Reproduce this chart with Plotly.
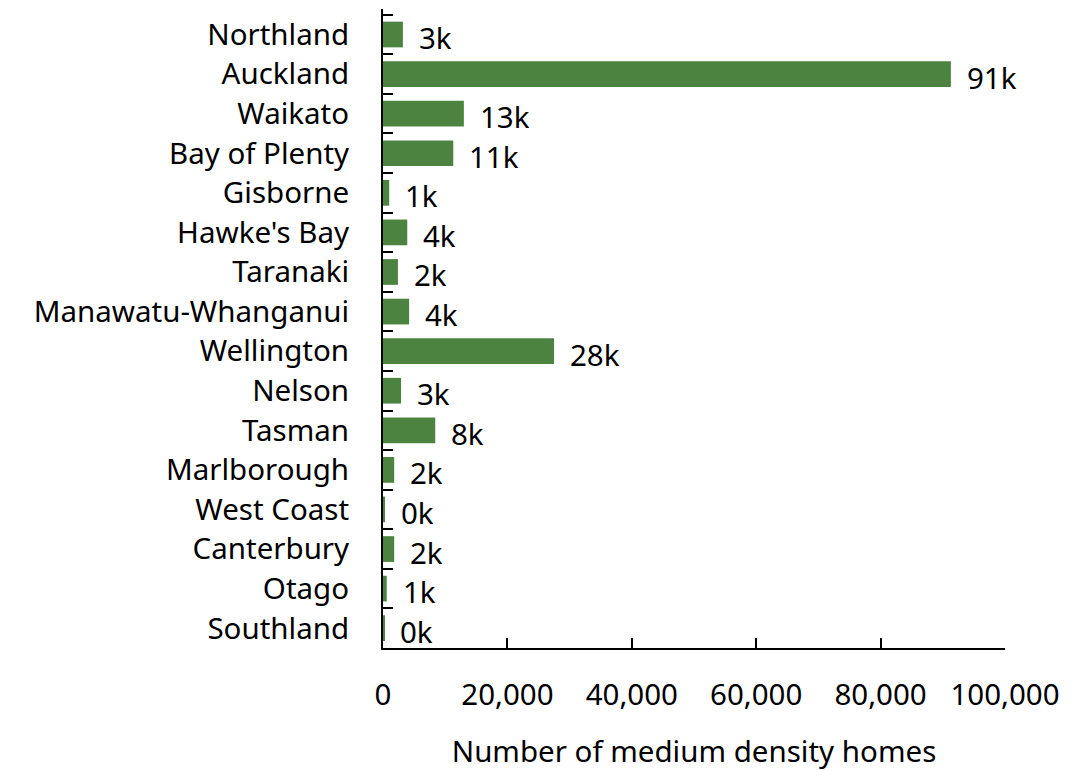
import plotly.graph_objects as go

regions = ["Northland", "Auckland", "Waikato", "Bay of Plenty", "Gisborne", "Hawke's Bay",
           "Taranaki", "Manawatu-Whanganui", "Wellington", "Nelson", "Tasman", "Marlborough",
           "West Coast", "Canterbury", "Otago", "Southland"]
homes = [3200, 91300, 13000, 11300, 1000, 3900, 2400, 4200, 27500, 2900, 8400, 1800,
         300, 1800, 600, 200]
labels = ["3k", "91k", "13k", "11k", "1k", "4k", "2k", "4k", "28k", "3k", "8k", "2k",
          "0k", "2k", "1k", "0k"]
x_ticks = [0, 20000, 40000, 60000, 80000, 100000]
x_ticktext = ["0", "20,000", "40,000", "60,000", "80,000", "100,000"]

FONT = "Noto Sans"
FS = 29.5
GREEN = "#4d8341"

fig = go.Figure()
fig.add_trace(go.Bar(
    y=regions, x=homes, orientation="h",
    marker=dict(color=GREEN, line=dict(width=0)),
    width=0.65, hoverinfo="skip",
))

for r, v, t in zip(regions, homes, labels):
    fig.add_annotation(x=v, y=r, text=t, showarrow=False, xanchor="left",
                       xshift=14, yshift=-3, font=dict(family=FONT, size=FS, color="black"))

# page body has an 8px default margin, so the figure is sized to fit the window
fig.update_layout(
    width=1084, height=763,
    margin=dict(l=375, r=87, t=1, b=123),
    paper_bgcolor="white", plot_bgcolor="white",
    showlegend=False,
    font=dict(family=FONT, size=FS, color="black"),
)
fig.update_xaxes(
    range=[0, 100000], tickvals=x_ticks, ticktext=x_ticktext,
    showgrid=False, zeroline=False, automargin=False,
    showline=True, linecolor="black", linewidth=2,
    ticks="inside", ticklen=10, tickwidth=1.5, tickcolor="black",
    ticklabelstandoff=20,
    tickfont=dict(family=FONT, size=FS),
    title=dict(text="Number of medium density homes", standoff=28,
               font=dict(family=FONT, size=FS)),
)
fig.update_yaxes(
    categoryorder="array", categoryarray=regions, autorange="reversed",
    showgrid=False, zeroline=False, automargin=False,
    showline=True, linecolor="black", linewidth=2,
    ticks="inside", ticklen=10, tickwidth=1.5, tickcolor="black",
    tickson="boundaries", ticklabelstandoff=26,
    tickfont=dict(family=FONT, size=FS),
)

fig.write_html("out.html")
